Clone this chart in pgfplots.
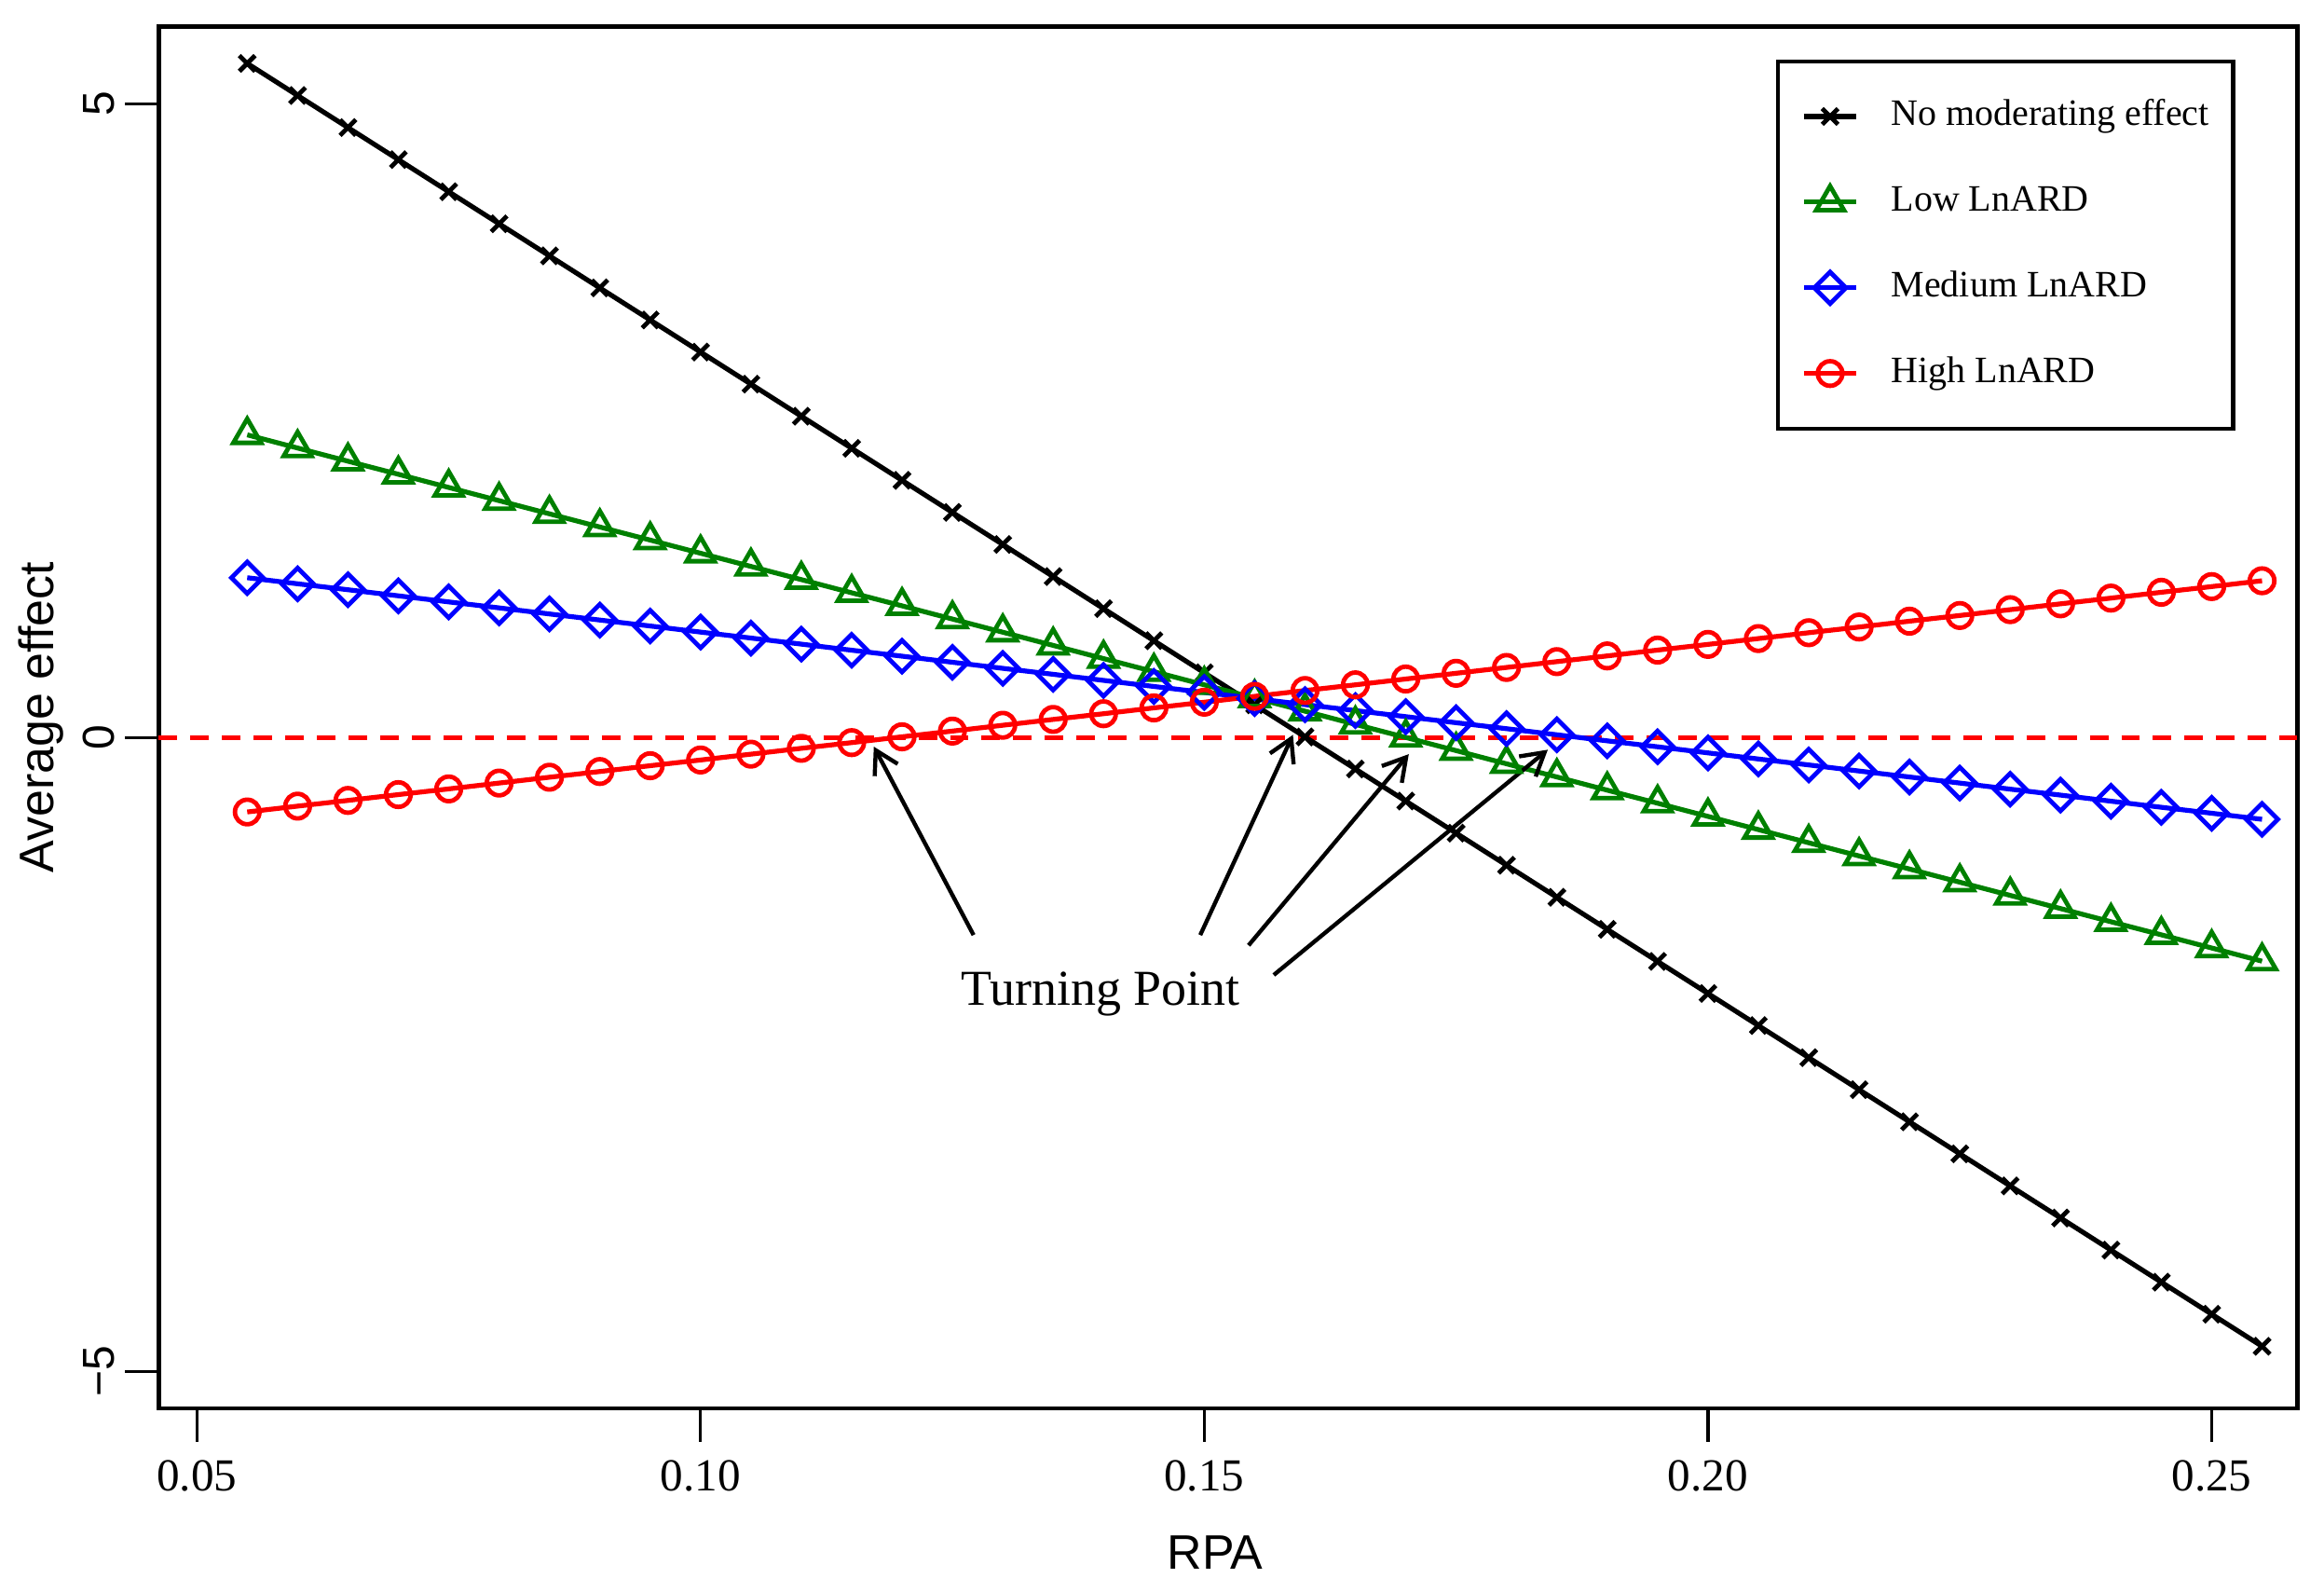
\documentclass[border=0pt]{standalone}
\usepackage{pgfplots}
\pgfplotsset{compat=1.18}
\usepackage{pgfplotstable}
\usepackage{fontspec}
\setmainfont{Liberation Serif}
\newfontfamily\arial{Liberation Sans}
\usetikzlibrary{arrows.meta}
\definecolor{rgreen}{RGB}{0,128,0}
\definecolor{rblue}{RGB}{0,0,255}
\definecolor{rred}{RGB}{255,0,0}

\pgfplotstableread{
x black green blue red
0.055 5.320 2.390 1.263 -0.585
0.060 5.067 2.286 1.215 -0.539
0.065 4.814 2.182 1.168 -0.494
0.070 4.561 2.079 1.120 -0.448
0.075 4.308 1.975 1.072 -0.403
0.080 4.055 1.871 1.025 -0.357
0.085 3.802 1.767 0.977 -0.311
0.090 3.549 1.663 0.929 -0.266
0.095 3.296 1.560 0.882 -0.220
0.100 3.043 1.456 0.834 -0.175
0.105 2.790 1.352 0.787 -0.129
0.110 2.537 1.248 0.739 -0.083
0.115 2.284 1.144 0.691 -0.038
0.120 2.031 1.041 0.644 0.008
0.125 1.778 0.937 0.596 0.053
0.130 1.525 0.833 0.548 0.099
0.135 1.272 0.729 0.501 0.145
0.140 1.019 0.625 0.453 0.190
0.145 0.766 0.522 0.405 0.236
0.150 0.513 0.418 0.358 0.281
0.155 0.260 0.314 0.310 0.327
0.160 0.007 0.210 0.262 0.373
0.165 -0.246 0.106 0.215 0.418
0.170 -0.499 0.003 0.167 0.464
0.175 -0.752 -0.101 0.119 0.509
0.180 -1.005 -0.205 0.072 0.555
0.185 -1.258 -0.309 0.024 0.601
0.190 -1.511 -0.413 -0.024 0.646
0.195 -1.764 -0.516 -0.071 0.692
0.200 -2.017 -0.620 -0.119 0.737
0.205 -2.270 -0.724 -0.167 0.783
0.210 -2.523 -0.828 -0.214 0.829
0.215 -2.776 -0.932 -0.262 0.874
0.220 -3.029 -1.035 -0.309 0.920
0.225 -3.282 -1.139 -0.357 0.965
0.230 -3.535 -1.243 -0.405 1.011
0.235 -3.788 -1.347 -0.452 1.057
0.240 -4.041 -1.451 -0.500 1.102
0.245 -4.294 -1.554 -0.548 1.148
0.250 -4.547 -1.658 -0.595 1.193
0.255 -4.800 -1.762 -0.643 1.239
}\data

\begin{document}
\begin{tikzpicture}
\begin{axis}[
  scale only axis, width=574.25pt, height=370.9pt,
  xmin=0.0462, xmax=0.2585, ymin=-5.29, ymax=5.61,
  axis line style={line width=1.2pt},
  tick align=outside, tick pos=left,
  major tick length=9pt,
  every tick/.style={black, line width=0.8pt},
  xtick={0.05,0.10,0.15,0.20,0.25},
  xticklabels={0.05,0.10,0.15,0.20,0.25},
  ytick={-5,0,5}, yticklabels={−5,0,5},
  xticklabel style={font=\fontsize{12.3}{14}\selectfont, anchor=north, inner sep=4.8pt},
  yticklabel style={font=\arial\fontsize{12}{14}\selectfont, rotate=90, anchor=south, inner sep=2.5pt},
  xlabel={RPA}, ylabel={Average effect},
  label style={font=\arial\fontsize{13}{15}\selectfont},
  xlabel style={at={(axis description cs:0.494,-0.1041)}, anchor=center},
  ylabel style={at={(axis description cs:-0.0548,0.5)}, anchor=center},
  legend cell align=left,
  legend image code/.code={\draw[mark repeat=2,mark phase=2,#1] plot coordinates {(0pt,0pt) (7pt,0pt) (14pt,0pt)};},
  legend style={at={(axis description cs:0.9709,0.9764)}, anchor=north east,
    draw=black, line width=1.1pt, font=\fontsize{10}{12}\selectfont,
    inner xsep=6.4pt, inner ysep=10.3pt, row sep=14pt,
    nodes={inner sep=0pt, text height=7pt, text depth=2pt},
    /tikz/every odd column/.append style={column sep=8.8pt}},
]
\addplot[rred, line width=1.2pt, dash pattern=on 5pt off 3.5pt, forget plot] coordinates {(0.0462,0) (0.2585,0)};
\addplot[black, line width=1.3pt, mark=x, mark size=3pt, mark options={solid, line width=1.2pt}] table[x=x,y=black]{\data};
\addlegendentry{No moderating effect}
\addplot[rgreen, line width=1.3pt, mark=triangle, mark size=4.3pt, mark options={solid, line width=1.2pt}] table[x=x,y=green]{\data};
\addlegendentry{Low LnARD}
\addplot[rblue, line width=1.3pt, mark=square, mark size=3pt, mark options={solid, rotate=45, line width=1.2pt}] table[x=x,y=blue]{\data};
\addlegendentry{Medium LnARD}
\addplot[rred, line width=1.3pt, mark=o, mark size=3.3pt, mark options={solid, line width=1.2pt}] table[x=x,y=red]{\data};
\addlegendentry{High LnARD}
\draw[line width=1.1pt, -{Straight Barb[length=6pt, width=7pt]}] (axis cs:0.1271,-1.556) -- (axis cs:0.1172,-0.07);
\draw[line width=1.1pt, -{Straight Barb[length=6pt, width=7pt]}] (axis cs:0.1496,-1.556) -- (axis cs:0.1588,0.023);
\draw[line width=1.1pt, -{Straight Barb[length=6pt, width=7pt]}] (axis cs:0.1544,-1.637) -- (axis cs:0.1703,-0.129);
\draw[line width=1.1pt, -{Straight Barb[length=6pt, width=7pt]}] (axis cs:0.1569,-1.871) -- (axis cs:0.1841,-0.094);
\node[font=\fontsize{13.5}{16}\selectfont] at (axis cs:0.1397,-2.02) {Turning Point};
\end{axis}
\pgfresetboundingbox
\path ([shift={(-42.58pt,-49.14pt)}]current axis.south west) rectangle ([shift={(7.17pt,7.16pt)}]current axis.north east);
\end{tikzpicture}
\end{document}
